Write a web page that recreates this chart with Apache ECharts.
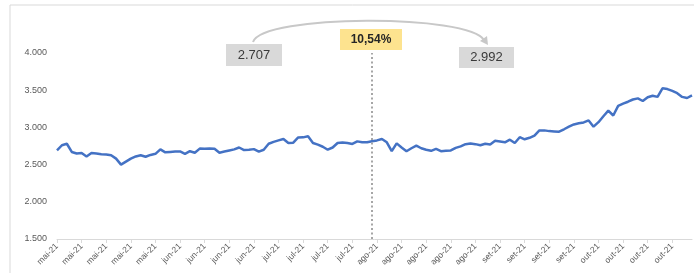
<!DOCTYPE html>
<html>
<head>
<meta charset="utf-8">
<script src="https://cdn.jsdelivr.net/npm/echarts@6/dist/echarts.min.js"></script>
<style>
  html, body { margin: 0; padding: 0; background: #fff; }
  #chart { width: 694px; height: 273px; }
</style>
</head>
<body>
<div id="chart"></div>
<script>
// one label every 5 trading days
let tickLabels = [
    'mai-21','mai-21','mai-21','mai-21','mai-21',
    'jun-21','jun-21','jun-21','jun-21',
    'jul-21','jul-21','jul-21','jul-21',
    'ago-21','ago-21','ago-21','ago-21','ago-21',
    'set-21','set-21','set-21','set-21',
    'out-21','out-21','out-21','out-21'
];
let labelEvery = 5;

// daily closing values
let values = [
    2690, 2760, 2780, 2670, 2650, 2655, 2610, 2655, 2650, 2640,
    2635, 2625, 2580, 2500, 2540, 2580, 2610, 2625, 2605, 2630,
    2645, 2705, 2665, 2670, 2675, 2677, 2645, 2680, 2660, 2715,
    2712, 2718, 2714, 2660, 2675, 2690, 2705, 2730, 2695, 2700,
    2708, 2675, 2700, 2780, 2805, 2825, 2845, 2790, 2795, 2865,
    2866, 2880, 2790, 2768, 2740, 2700, 2730, 2790, 2798, 2790,
    2778, 2812, 2800, 2800, 2815, 2825, 2845, 2800, 2680, 2785,
    2730, 2680, 2720, 2755, 2720, 2700, 2685, 2712, 2680, 2685,
    2690, 2725, 2745, 2775, 2785, 2775, 2760, 2780, 2770, 2820,
    2810, 2800, 2835, 2790, 2868, 2840, 2860, 2890, 2960, 2960,
    2950, 2946, 2942, 2975, 3010, 3040, 3055, 3067, 3094, 3010,
    3070, 3150, 3225, 3160, 3290, 3320, 3345, 3375, 3390, 3355,
    3405, 3426, 3410, 3525, 3515, 3490, 3460, 3410, 3395, 3430
];

let markerIndex = 64;      // dotted line position
let startLabel = '2.707';
let endLabel = '2.992';
let changeLabel = '10,54%';

let categories = values.map((v, i) => String(i));

let chart = echarts.init(document.getElementById('chart'));

let fmtThousands = (v) => String(v).replace(/\B(?=(\d{3})+(?!\d))/g, '.');

chart.setOption({
    animation: false,
    grid: { left: 57, right: 2, top: 53, bottom: 34 },
    xAxis: {
        type: 'category',
        data: categories,
        boundaryGap: false,
        axisLine: { lineStyle: { color: '#d9d9d9', width: 1 } },
        axisTick: { interval: labelEvery - 1, length: 4, lineStyle: { color: '#d9d9d9' } },
        axisLabel: {
            interval: labelEvery - 1,
            rotate: 45,
            fontSize: 8.5,
            fontFamily: 'Liberation Sans',
            color: '#595959',
            margin: 6,
            formatter: (val, idx) => tickLabels[Math.round(idx / labelEvery)] || ''
        },
        splitLine: { show: false }
    },
    yAxis: {
        type: 'value',
        min: 1500,
        max: 4000,
        interval: 500,
        axisLine: { show: false },
        axisTick: { show: false },
        splitLine: { show: false },
        axisLabel: {
            fontSize: 9,
            fontFamily: 'Liberation Sans',
            color: '#595959',
            margin: 10,
            formatter: fmtThousands
        }
    },
    series: [{
        type: 'line',
        data: values,
        showSymbol: false,
        lineStyle: { color: '#4472c4', width: 2.5 },
        itemStyle: { color: '#4472c4' },
        markLine: {
            silent: true,
            symbol: 'none',
            label: { show: false },
            lineStyle: { color: '#a6a6a6', type: [2, 2.5], width: 2 },
            data: [{ xAxis: markerIndex }]
        }
    }],
    graphic: [
        {
            type: 'rect',
            shape: { x: 10, y: 5, width: 700, height: 290 },
            style: { fill: 'none', stroke: '#d9d9d9', lineWidth: 1 },
            silent: true
        },
        {
            type: 'bezierCurve',
            shape: { x1: 253, y1: 42, x2: 484, y2: 40, cpx1: 262, cpy1: 14, cpx2: 470, cpy2: 14 },
            style: { stroke: '#c8c8c8', lineWidth: 2, fill: 'none' }
        },
        {
            type: 'polygon',
            shape: { points: [[488, 45], [480, 41], [487, 36]] },
            style: { fill: '#c8c8c8' }
        },
        {
            type: 'group', left: 226, top: 44,
            children: [
                { type: 'rect', shape: { x: 0, y: 0, width: 56, height: 22 }, style: { fill: '#d9d9d9' } },
                { type: 'text', x: 28, y: 11, style: { text: startLabel, fill: '#3a3a3a', font: '13px "Liberation Sans"', align: 'center', verticalAlign: 'middle' } }
            ]
        },
        {
            type: 'group', left: 340, top: 29,
            children: [
                { type: 'rect', shape: { x: 0, y: 0, width: 62, height: 21 }, style: { fill: '#fde38f' } },
                { type: 'text', x: 31, y: 10.5, style: { text: changeLabel, fill: '#262626', font: 'bold 12px "Liberation Sans"', align: 'center', verticalAlign: 'middle' } }
            ]
        },
        {
            type: 'group', left: 459, top: 47,
            children: [
                { type: 'rect', shape: { x: 0, y: 0, width: 55, height: 21 }, style: { fill: '#d9d9d9' } },
                { type: 'text', x: 27.5, y: 10.5, style: { text: endLabel, fill: '#3a3a3a', font: '13px "Liberation Sans"', align: 'center', verticalAlign: 'middle' } }
            ]
        }
    ]
});
</script>
</body>
</html>
